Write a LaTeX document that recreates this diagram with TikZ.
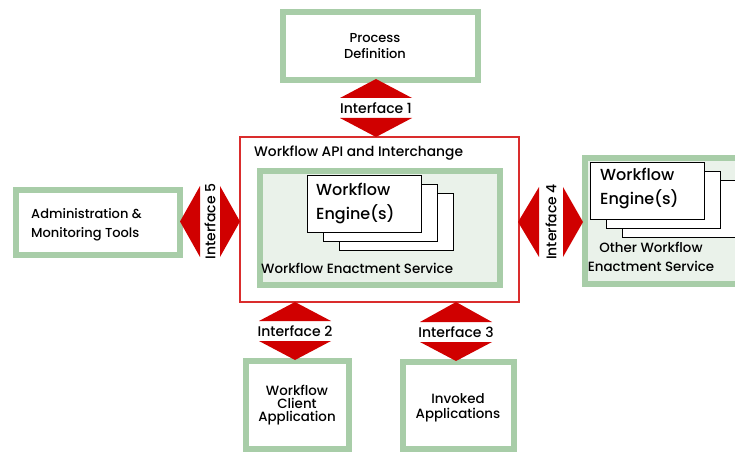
\documentclass[tikz,border=0pt]{standalone}
\usepackage{fontspec}
\setmainfont{Poppins}[UprightFont=* Medium]
\usepackage{tikz}
\usetikzlibrary{calc}

\definecolor{boxgreen}{RGB}{168,205,168}
\definecolor{wesfill}{RGB}{234,242,234}
\definecolor{ifred}{RGB}{208,0,0}
\definecolor{apired}{RGB}{218,45,45}

\tikzset{
    greenbox/.style={draw=boxgreen, line width=6pt, fill=white, outer sep=0pt},
    engine/.style={draw=black, line width=0.8pt, fill=white, minimum width=114pt, minimum height=57pt},
    txt/.style={font=\fontsize{13.4}{15}\selectfont, align=center, inner sep=0pt},
    bigtxt/.style={font=\fontsize{16}{24}\selectfont, align=left, inner sep=0pt},
    iflabel/.style={font=\fontsize{14}{14}\selectfont, inner sep=0pt}
}

\begin{document}
\begin{tikzpicture}[x=1pt,y=-1pt]
        \useasboundingbox (0,0) rectangle (735,454);

        % outer boxes
        \node[greenbox, minimum width=195pt, minimum height=68pt] (pd) at (380.5,46) {};
        \node[greenbox, minimum width=164pt, minimum height=65pt] (admin) at (98,222.5) {};
        \node[greenbox, minimum width=103pt, minimum height=88pt] (client) at (297.5,405) {};
        \node[greenbox, minimum width=111pt, minimum height=87pt] (invoked) at (458.5,405.5) {};

        % API and interchange frame
        \node[draw=apired, line width=1.2pt, minimum width=279pt, minimum height=165pt] (api) at (379.5,219.5) {};
        \node[greenbox, fill=wesfill, minimum width=240pt, minimum height=114pt] (wes) at (380,228) {};
        \node[greenbox, fill=wesfill, minimum width=175pt, minimum height=126pt] (other) at (672.5,221) {};

        % engine stacks
        \node[engine] (eng3) at (396,221.5) {};
        \node[engine] (eng2) at (380,212.5) {};
        \node[engine] (eng1) at (364,203.5) {};
        \node[engine] (oeng3) at (679.5,208.5) {};
        \node[engine] (oeng2) at (663.5,199.5) {};
        \node[engine] (oeng1) at (647.5,190.5) {};

        % texts
        \node[txt, font=\fontsize{13}{15.5}\selectfont] (pdtext) at (375,46) {Process\\Definition};
        \node[txt, font=\fontsize{13.8}{15}\selectfont, anchor=west] (apitext) at (254,153) {Workflow API and Interchange};
        \node[bigtxt, anchor=west] (engtext) at (316,203) {Workflow\\Engine(s)};
        \node[txt, anchor=west] (westext) at (261,268) {Workflow Enactment Service};
        \node[txt, align=left, font=\fontsize{13}{19}\selectfont, anchor=west] (admintext) at (31,224.5) {Administration \&\\Monitoring Tools};
        \node[bigtxt, anchor=west] (oengtext) at (600,188.5) {Workflow\\Engine(s)};
        \node[txt, font=\fontsize{13.4}{19}\selectfont] (othertext) at (651,256.5) {Other Workflow\\Enactment Service};
        \node[txt, font=\fontsize{13.4}{13}\selectfont] (clienttext) at (297,405.5) {Workflow\\Client\\Application};
        \node[txt, font=\fontsize{13.4}{14.5}\selectfont] (invokedtext) at (458,408) {Invoked\\Applications};

        % interfaces
        \coordinate (if1) at (376,108);
        \coordinate (if2) at (295,331);
        \coordinate (if3) at (456,332);
        \coordinate (if5) at (210,221.5);
        \coordinate (if4) at (551,222);

        \fill[ifred] ($(if1)+(0,-29)$) -- ++(36,19) -- ++(-72,0) -- cycle;
        \fill[ifred] ($(if1)+(0,29)$) -- ++(36,-19) -- ++(-72,0) -- cycle;
        \fill[ifred] ($(if2)+(0,-29)$) -- ++(36,19) -- ++(-72,0) -- cycle;
        \fill[ifred] ($(if2)+(0,29)$) -- ++(36,-19) -- ++(-72,0) -- cycle;
        \fill[ifred] ($(if3)+(0,-30)$) -- ++(36,20) -- ++(-72,0) -- cycle;
        \fill[ifred] ($(if3)+(0,29)$) -- ++(36,-19) -- ++(-72,0) -- cycle;
        \fill[ifred] ($(if5)+(-30,0)$) -- ++(20,-35.5) -- ++(0,71) -- cycle;
        \fill[ifred] ($(if5)+(30,0)$) -- ++(-20,-35.5) -- ++(0,71) -- cycle;
        \fill[ifred] ($(if4)+(-33,0)$) -- ++(21,-35) -- ++(0,70) -- cycle;
        \fill[ifred] ($(if4)+(32,0)$) -- ++(-20,-35) -- ++(0,70) -- cycle;

        \node[iflabel] (if1text) at (if1) {Interface 1};
        \node[iflabel] (if2text) at (if2) {Interface 2};
        \node[iflabel] (if3text) at (if3) {Interface 3};
        \node[iflabel, rotate=90] (if5text) at (if5) {Interface 5};
        \node[iflabel, rotate=90] (if4text) at (if4) {Interface 4};
\end{tikzpicture}
\end{document}
